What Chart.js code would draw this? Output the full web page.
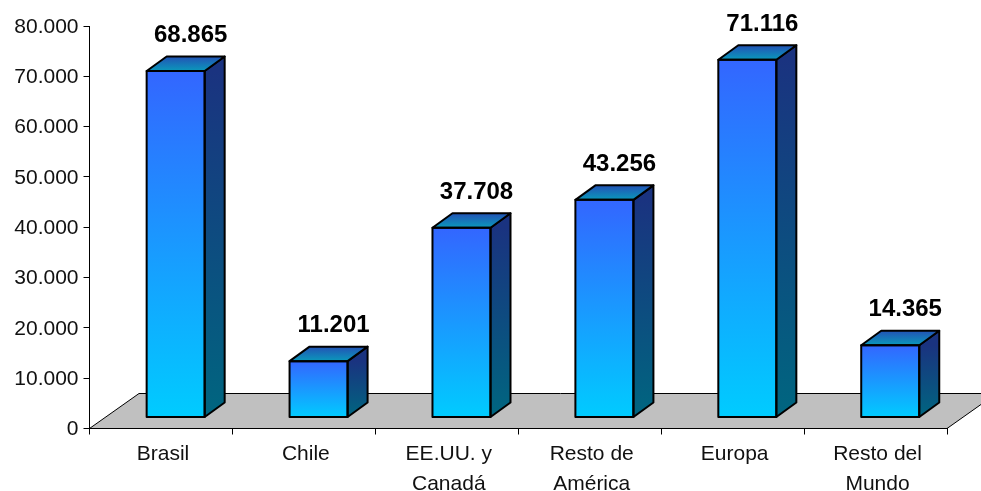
<!DOCTYPE html>
<html>
<head>
<meta charset="utf-8">
<style>html,body{margin:0;padding:0;background:#fff}#w{width:981px;height:491px}canvas{display:block}</style>
<script src="https://cdn.jsdelivr.net/npm/chart.js@4"></script>
</head>
<body>
<div id="w"><canvas id="c" width="981" height="491"></canvas></div>
<script>
const categories = [["Brasil"],["Chile"],["EE.UU. y","Canadá"],["Resto de","América"],["Europa"],["Resto del","Mundo"]];
const values = [68865, 11201, 37708, 43256, 71116, 14365];
const yMax = 80000, yStep = 10000;

const FONT = '"Liberation Sans", Arial, sans-serif';
const TEXT = '#111';
const fmt = v => String(v).replace(/\B(?=(\d{3})+$)/g, '.');
const FLOOR = {dx: 49.5, dy: -35};
const BAR = {dx: 14.7, dy: -11, sx: 20, sy: -14.5};

function vGrad(ctx, y0, y1, a, b){
  const g = ctx.createLinearGradient(0, y0, 0, y1);
  g.addColorStop(0, a); g.addColorStop(1, b); return g;
}
function poly(ctx, pts, fill){
  ctx.beginPath();
  pts.forEach((p,i)=> i ? ctx.lineTo(p[0],p[1]) : ctx.moveTo(p[0],p[1]));
  ctx.closePath();
  ctx.fillStyle = fill; ctx.fill();
  ctx.lineWidth = 2; ctx.lineJoin='round'; ctx.strokeStyle = '#000'; ctx.stroke();
}
const bar3d = {
  id: 'bar3d',
  beforeDraw(chart){
    const {ctx, chartArea:a} = chart;
    const y0 = chart.scales.y.getPixelForValue(0);
    ctx.save();
    ctx.beginPath();
    ctx.moveTo(a.left, y0);
    ctx.lineTo(a.right, y0);
    ctx.lineTo(a.right+FLOOR.dx, y0+FLOOR.dy);
    ctx.lineTo(a.left+FLOOR.dx, y0+FLOOR.dy);
    ctx.closePath();
    ctx.fillStyle = '#c0c0c0'; ctx.fill();
    ctx.lineWidth = 1; ctx.strokeStyle = '#000'; ctx.stroke();
    ctx.restore();
  },
  beforeDatasetsDraw(chart){
    chart.ctx.save();
    chart.ctx.translate(BAR.dx, BAR.dy);
  },
  afterDatasetsDraw(chart){
    const ctx = chart.ctx;
    chart.getDatasetMeta(0).data.forEach(b=>{
      const hw = b.width/2, l=b.x-hw, r=b.x+hw, t=b.y, bt=b.base, sx=BAR.sx, sy=BAR.sy;
      poly(ctx, [[r,t],[r+sx,t+sy],[r+sx,bt+sy],[r,bt]], vGrad(ctx,t,bt,'#1a3380','#006680'));
      poly(ctx, [[l,t],[l+sx,t+sy],[r+sx,t+sy],[r,t]], vGrad(ctx,t+sy,t,'#2352b5','#0a99bb'));
      poly(ctx, [[l,t],[r,t],[r,bt],[l,bt]], 'rgba(0,0,0,0)');
    });
    ctx.restore();
    ctx.save();
    ctx.font = 'bold 24px '+FONT;
    ctx.fillStyle = '#000';
    ctx.textAlign='center'; ctx.textBaseline='middle';
    chart.getDatasetMeta(0).data.forEach((b,i)=>{
      ctx.fillText(fmt(values[i]), b.x+BAR.dx+15, b.y+BAR.dy-25.5-10);
    });
    ctx.restore();
  }
};
new Chart(document.getElementById('c'), {
  type:'bar',
  data:{labels:categories, datasets:[{
    data:values,
    clip:false,
    barPercentage:1,
    categoryPercentage:0.406,
    borderWidth:0,
    backgroundColor(c){
      const s=c.chart.scales.y;
      if(!s||c.type!=='data'||!c.parsed) return '#3366ff';
      const y0=s.getPixelForValue(c.parsed.y), y1=s.getPixelForValue(0);
      if(!isFinite(y0)||!isFinite(y1)) return '#3366ff';
      return vGrad(c.chart.ctx, y0, y1, '#3366ff', '#00ccff');
    }
  }]},
  options:{
    responsive:false, animation:false, devicePixelRatio:1,
    layout:{padding:{top:26,right:34,left:0,bottom:0}},
    plugins:{legend:{display:false},tooltip:{enabled:false}},
    scales:{
      x:{
        afterFit(s){s.height=62.5;},
        border:{color:'#000',width:1},
        grid:{display:true,drawOnChartArea:false,drawTicks:true,tickLength:6,color:'#000'},
        ticks:{color:TEXT,font:{family:FONT,size:21,lineHeight:1.45},maxRotation:0,autoSkip:false,padding:4,labelOffset:2}
      },
      y:{
        min:0,max:yMax,
        afterFit(s){s.width=89.5;},
        border:{color:'#000',width:1},
        grid:{display:true,drawOnChartArea:false,drawTicks:true,tickLength:6,color:'#000'},
        ticks:{color:TEXT,stepSize:yStep,font:{family:FONT,size:21},padding:5,labelOffset:1,callback:v=>fmt(v)}
      }
    }
  },
  plugins:[bar3d]
});
</script>
</body>
</html>
